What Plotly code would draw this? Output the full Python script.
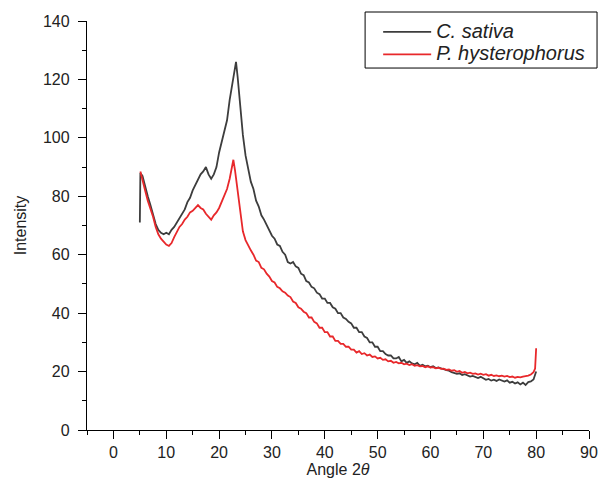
import plotly.graph_objects as go

# ---- data ----
angle_cs = [5.0, 5.1, 5.5, 6.0, 6.5, 7.0, 7.5, 8.0, 8.5, 9.0, 9.5, 10.0, 10.5, 11.0, 11.5,
            12.0, 12.5, 13.0, 13.5, 14.0, 14.5, 15.0, 15.5, 16.0, 16.5, 17.0, 17.5, 18.0,
            18.5, 19.0, 19.5, 20.0, 20.5, 21.0, 21.5, 22.0, 22.5, 23.0, 23.2, 23.5, 24.0,
            24.5, 25.0, 25.5, 26.0, 26.5, 27.0, 27.5, 28.0, 28.5, 29.0, 29.5, 30.0, 30.5,
            31.0, 31.5, 32.0, 32.5, 33.0, 33.5, 34.0, 34.5, 35.0, 35.5, 36.0, 36.5, 37.0,
            37.5, 38.0, 38.5, 39.0, 39.5, 40.0, 40.5, 41.0, 41.5, 42.0, 42.5, 43.0, 43.5,
            44.0, 44.5, 45.0, 45.5, 46.0, 46.5, 47.0, 47.5, 48.0, 48.5, 49.0, 49.5, 50.0,
            50.5, 51.0, 51.5, 52.0, 52.5, 53.0, 53.5, 54.0, 54.5, 55.0, 55.5, 56.0, 56.5,
            57.0, 57.5, 58.0, 58.5, 59.0, 59.5, 60.0, 60.5, 61.0, 61.5, 62.0, 62.5, 63.0,
            63.5, 64.0, 64.5, 65.0, 65.5, 66.0, 66.5, 67.0, 67.5, 68.0, 68.5, 69.0, 69.5,
            70.0, 70.5, 71.0, 71.5, 72.0, 72.5, 73.0, 73.5, 74.0, 74.5, 75.0, 75.5, 76.0,
            76.5, 77.0, 77.5, 78.0, 78.5, 79.0, 79.5, 80.0]
intensity_cs = [71, 88, 87, 83, 80, 77, 73.5, 70.5, 68.5, 67.5, 67, 67.5, 67, 68.5, 69.5,
                71, 72.5, 74, 75.5, 78, 79.5, 82, 84, 86, 87.5, 88.5, 90, 87.5,
                86, 87.5, 90, 95, 99, 102, 106, 113, 119, 125, 126, 121, 111,
                101, 94, 89.5, 85, 82.5, 78.5, 76.5, 73.5, 72, 70, 68.5, 66.5, 65.5,
                63.5, 63, 61, 60, 57.5, 57, 57.5, 56, 55.5, 53.5, 53, 51, 50.5,
                49, 48.5, 47, 46.5, 45, 45, 43.5, 43.5, 42, 41.5, 40, 40, 38.5,
                38, 37, 36.5, 35, 35, 33.5, 33.5, 32, 31.5, 30, 30, 28.5, 28.5,
                27, 27, 26, 25.5, 25.5, 24.5, 24.5, 25, 23.5, 24, 23, 23.5, 22.8,
                22.5, 23, 22, 22.3, 21.8, 22, 21.5, 21.8, 21.2, 21.4, 21, 20.8, 20.5,
                20.3, 19.8, 19.6, 19.2, 19.4, 18.8, 19.1, 18.6, 18.3, 18.5, 18.1, 17.8, 18.2,
                17.6, 17.2, 17.5, 16.9, 17.2, 16.8, 17.3, 16.9, 16.6, 17.0, 16.2, 16.5, 15.9,
                16.3, 15.6, 16.2, 15.4, 16.4, 16.6, 17.3, 20]

angle_ph = [5.1, 5.5, 6.0, 6.5, 7.0, 7.5, 8.0, 8.5, 9.0, 9.5, 10.0, 10.5, 11.0, 11.5,
            12.0, 12.5, 13.0, 13.5, 14.0, 14.5, 15.0, 15.5, 16.0, 16.5, 17.0, 17.5, 18.0,
            18.5, 19.0, 19.5, 20.0, 20.5, 21.0, 21.5, 22.0, 22.5, 22.7, 23.0, 23.5, 24.0,
            24.5, 25.0, 25.5, 26.0, 26.5, 27.0, 27.5, 28.0, 28.5, 29.0, 29.5, 30.0, 30.5,
            31.0, 31.5, 32.0, 32.5, 33.0, 33.5, 34.0, 34.5, 35.0, 35.5, 36.0, 36.5, 37.0,
            37.5, 38.0, 38.5, 39.0, 39.5, 40.0, 40.5, 41.0, 41.5, 42.0, 42.5, 43.0, 43.5,
            44.0, 44.5, 45.0, 45.5, 46.0, 46.5, 47.0, 47.5, 48.0, 48.5, 49.0, 49.5, 50.0,
            50.5, 51.0, 51.5, 52.0, 52.5, 53.0, 53.5, 54.0, 54.5, 55.0, 55.5, 56.0, 56.5,
            57.0, 57.5, 58.0, 58.5, 59.0, 59.5, 60.0, 60.5, 61.0, 61.5, 62.0, 62.5, 63.0,
            63.5, 64.0, 64.5, 65.0, 65.5, 66.0, 66.5, 67.0, 67.5, 68.0, 68.5, 69.0, 69.5,
            70.0, 70.5, 71.0, 71.5, 72.0, 72.5, 73.0, 73.5, 74.0, 74.5, 75.0, 75.5, 76.0,
            76.5, 77.0, 77.5, 78.0, 78.5, 79.0, 79.5, 79.8, 80.0]
intensity_ph = [88.5, 86, 82, 78.5, 76, 73, 69.5, 67, 65.5, 64.5, 63.5, 63, 64, 66,
                67.5, 69.5, 70.5, 72, 73, 74.5, 75, 76, 77, 76, 75.5, 74, 73,
                72, 73.5, 74.5, 76, 78, 80, 82.5, 86, 91, 92.5, 89, 82, 74,
                68, 65, 63, 61.5, 60, 58, 57.5, 55.5, 55, 53.5, 52.5, 51, 50.5,
                49, 48.5, 47.5, 47, 46, 45.5, 44, 43.5, 42, 41.5, 40.5, 40, 38.5,
                38.5, 37, 36.5, 35, 35, 33.5, 33.5, 32, 32, 30.5, 30.5, 29.5, 29.5,
                28.5, 28.5, 27.5, 27.5, 26.5, 27, 26, 26.3, 25.5, 25.8, 25, 25.2, 24.5,
                24.7, 24, 24.2, 23.5, 23.7, 23, 23.3, 22.8, 23, 22.5, 22.7, 22.2, 22.5,
                22, 22.2, 21.8, 21.9, 21.5, 21.8, 21.4, 21.5, 21.1, 21.3, 20.9, 21.0, 20.6,
                20.7, 20.3, 20.5, 19.9, 20.2, 19.6, 19.9, 19.4, 19.6, 19.2, 19.4, 19.0, 19.3,
                18.9, 19.1, 18.6, 18.9, 18.5, 18.7, 18.4, 18.6, 18.3, 18.5, 18.1, 18.3, 17.9,
                18.2, 18.0, 18.3, 18.4, 18.6, 19.0, 19.8, 21, 28]

x_ticks = [0, 10, 20, 30, 40, 50, 60, 70, 80, 90]
y_ticks = [0, 20, 40, 60, 80, 100, 120, 140]
series_names = ["C. sativa", "P. hysterophorus"]

FONT = "Liberation Sans, Arial, sans-serif"


def legend_label(s):
    return '<span style="font-size:20px"><i>%s</i></span>' % s


fig = go.Figure()
fig.add_trace(go.Scatter(x=angle_cs, y=intensity_cs, mode="lines",
                         name=legend_label(series_names[0]),
                         line=dict(color="#3d3d3d", width=1.8)))
fig.add_trace(go.Scatter(x=angle_ph, y=intensity_ph, mode="lines",
                         name=legend_label(series_names[1]),
                         line=dict(color="#e8282b", width=1.8)))

axis_common = dict(
    showgrid=False, zeroline=False, showline=True, linecolor="#000", linewidth=1.3,
    ticks="outside", ticklen=8, tickwidth=1.3, tickcolor="#000",
    tickfont=dict(family=FONT, size=16, color="#222"),
)

fig.update_xaxes(range=[-5, 90], tickvals=x_ticks,
                 minor=dict(ticks="outside", ticklen=4, tickwidth=1.3, tickcolor="#000", dtick=5, tick0=0),
                 title=dict(text="Angle 2<i>θ</i>", font=dict(family=FONT, size=16, color="#222"), standoff=2),
                 **axis_common)
fig.update_yaxes(range=[0, 140], tickvals=y_ticks, ticklabelstandoff=5,
                 minor=dict(ticks="outside", ticklen=4, tickwidth=1.3, tickcolor="#000", dtick=10, tick0=0),
                 title=dict(text="Intensity", font=dict(family=FONT, size=16, color="#222"), standoff=12),
                 **axis_common)

# legend frame drawn as a paper-space rectangle
fig.add_shape(type="rect", xref="paper", yref="paper",
              x0=0.554, x1=1.016, y0=0.885, y1=1.022,
              line=dict(color="#000", width=1), fillcolor="rgba(0,0,0,0)", layer="above")

# the page body adds an 8 px offset, so margins are shifted to compensate
fig.update_layout(
    width=606, height=481,
    margin=dict(l=79, r=25, t=13, b=59, autoexpand=False),
    plot_bgcolor="white", paper_bgcolor="white",
    showlegend=True,
    legend=dict(x=0.580, y=0.946, xanchor="left", yanchor="middle",
                borderwidth=0, bgcolor="rgba(0,0,0,0)",
                font=dict(family=FONT, size=15, color="#222"),
                tracegroupgap=0, itemwidth=48),
)

fig.write_html("out.html")
